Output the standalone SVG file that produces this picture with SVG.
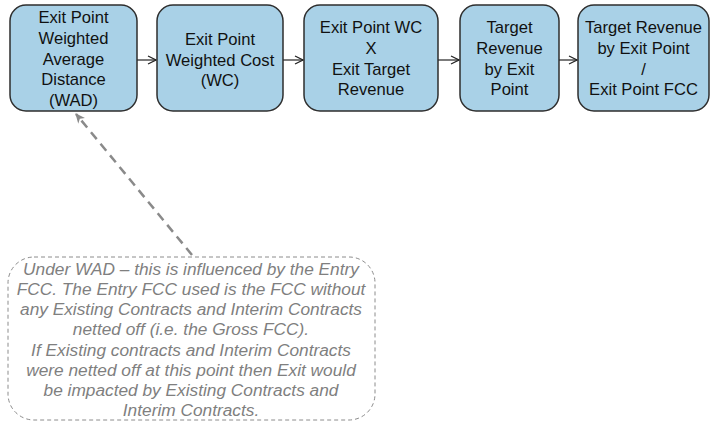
<svg xmlns="http://www.w3.org/2000/svg" width="714" height="423" viewBox="0 0 714 423">
<defs>
<style>
.box{fill:#a9d1e7;stroke:#2e2e2e;stroke-width:1.5}
.t{font-family:"Liberation Sans",Arial,sans-serif;font-size:16.6px;fill:#111;text-anchor:middle}
.c{font-family:"Liberation Sans",Arial,sans-serif;font-size:17.3px;font-style:italic;fill:#7f7f7f;text-anchor:middle}
.flow{stroke:#222;stroke-width:1.2;fill:none}
.dash{stroke:#8a8a8a;stroke-width:2.5;stroke-dasharray:9 6;fill:none}
.note{fill:#fff;stroke:#8c8c8c;stroke-width:1;stroke-dasharray:4 3}
</style>
<marker id="ah" viewBox="0 0 10 10" refX="9" refY="5" markerWidth="10" markerHeight="10" markerUnits="userSpaceOnUse" orient="auto">
<path d="M1,1 L9,5 L1,9" fill="none" stroke="#222" stroke-width="1.2"/>
</marker>
<marker id="ahg" viewBox="0 0 10 10" refX="9" refY="5" markerWidth="10" markerHeight="10" markerUnits="userSpaceOnUse" orient="auto">
<path d="M0,0.5 L10,5 L0,9.5 L3,5 Z" fill="#8a8a8a"/>
</marker>
</defs>
<g id="connectors">
<line class="flow" x1="137" y1="60" x2="156" y2="60" marker-end="url(#ah)"/>
<line class="flow" x1="283" y1="60" x2="303" y2="60" marker-end="url(#ah)"/>
<line class="flow" x1="438" y1="60" x2="459" y2="60" marker-end="url(#ah)"/>
<line class="flow" x1="559" y1="60" x2="577" y2="60" marker-end="url(#ah)"/>
<line class="dash" x1="192" y1="255" x2="76" y2="114" marker-end="url(#ahg)"/>
</g>
<g id="node1">
<rect class="box" x="10" y="5" width="127" height="106" rx="16"/>
<text class="t" x="73.5" y="23">Exit Point</text>
<text class="t" x="73.5" y="44">Weighted</text>
<text class="t" x="73.5" y="65">Average</text>
<text class="t" x="73.5" y="85">Distance</text>
<text class="t" x="73.5" y="106">(WAD)</text>
</g>
<g id="node2">
<rect class="box" x="157" y="5" width="126" height="106" rx="16"/>
<text class="t" x="220" y="45">Exit Point</text>
<text class="t" x="220" y="66">Weighted Cost</text>
<text class="t" x="220" y="86">(WC)</text>
</g>
<g id="node3">
<rect class="box" x="304" y="5" width="134" height="106" rx="16"/>
<text class="t" x="371" y="33">Exit Point WC</text>
<text class="t" x="371" y="54">X</text>
<text class="t" x="371" y="75">Exit Target</text>
<text class="t" x="371" y="95">Revenue</text>
</g>
<g id="node4">
<rect class="box" x="460" y="5" width="99" height="106" rx="16"/>
<text class="t" x="509.5" y="33">Target</text>
<text class="t" x="509.5" y="54">Revenue</text>
<text class="t" x="509.5" y="75">by Exit</text>
<text class="t" x="509.5" y="95">Point</text>
</g>
<g id="node5">
<rect class="box" x="578" y="5" width="131" height="106" rx="16"/>
<text class="t" x="643.5" y="33">Target Revenue</text>
<text class="t" x="643.5" y="54">by Exit Point</text>
<text class="t" x="643.5" y="75">/</text>
<text class="t" x="643.5" y="95">Exit Point FCC</text>
</g>
<g id="note">
<rect class="note" x="8" y="257" width="367" height="163" rx="26"/>
<text class="c" x="191" y="275">Under WAD – this is influenced  by the Entry</text>
<text class="c" x="191" y="295">FCC. The Entry FCC used is the FCC without</text>
<text class="c" x="191" y="315">any Existing Contracts and Interim Contracts</text>
<text class="c" x="191" y="335">netted off (i.e. the Gross FCC).</text>
<text class="c" x="191" y="356">If Existing contracts and Interim Contracts</text>
<text class="c" x="191" y="376">were netted off at this point then Exit would</text>
<text class="c" x="191" y="396">be impacted by Existing Contracts and</text>
<text class="c" x="191" y="416">Interim Contracts.</text>
</g>
</svg>
